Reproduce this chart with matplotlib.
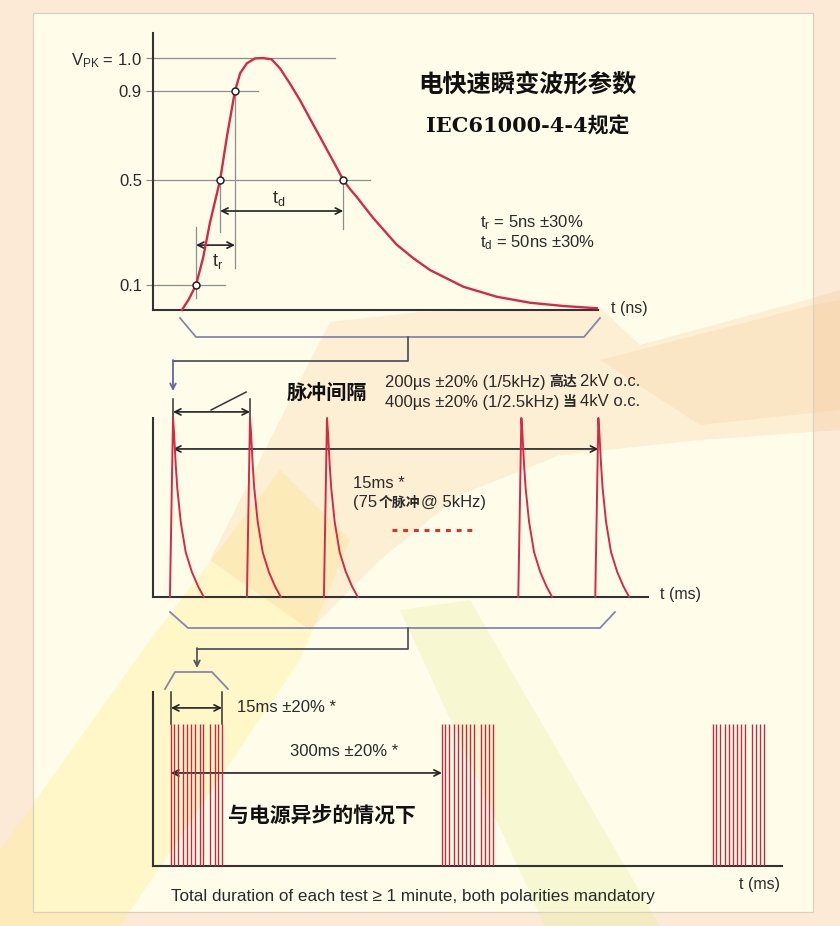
import numpy as np
import matplotlib
matplotlib.use("Agg")
import matplotlib.pyplot as plt
from matplotlib.patches import Polygon, Rectangle

plt.rcParams['font.family'] = ['Liberation Sans', 'Noto Sans CJK SC', 'DejaVu Sans']
CJK = ['Noto Sans CJK SC', 'DejaVu Sans']

# ---------------- data ----------------
# single EFT pulse (normalised voltage vs time in ns)
pulse_t_ns = [7.8, 9.7, 11.6, 13.5, 15.4, 18.1, 20.0, 22.1,
              23.5, 25.3, 27.5, 29.7, 32.0, 34.3, 36.9, 39.6, 42.3, 45.0, 47.7, 49.6,
              51.3, 53.1, 54.9, 59.4, 65.7, 70.2, 74.7, 83.7, 92.7, 101.7, 110.7, 119.7]
pulse_v = [0.0, 0.044, 0.10, 0.203, 0.34, 0.50, 0.702, 0.90,
           0.954, 0.984, 0.999, 1.0, 0.996, 0.968, 0.923, 0.860, 0.777, 0.695, 0.612, 0.554,
           0.50, 0.466, 0.436, 0.355, 0.254, 0.202, 0.157, 0.093, 0.053, 0.029, 0.016, 0.007]
levels = [0.1, 0.5, 0.9, 1.0]
level_labels = ['0.1', '0.5', '0.9', r'$\mathregular{V_{PK}}$ = 1.0']
cross_t = [11.6, 18.1, 22.1, 51.3]   # 10%, 50%, 90% rise, 50% fall
cross_v = [0.1, 0.5, 0.9, 0.5]

# burst of pulses (time in us)
burst_pulse_us = [0, 200, 400, 905, 1105]
shape_dt_us = [-8, 0, 2.6, 7, 11, 20, 33, 49, 65, 80]
shape_v = [0.0, 1.0, 0.92, 0.74, 0.61, 0.42, 0.25, 0.14, 0.06, 0.0]

# repeated bursts (time in ms)
burst_start_ms = [0, 300, 600]
burst_line_ms = [0, 3.9, 8.3, 13.3, 17.7, 22.1, 27.1, 31.6, 36.0, 43.2, 48.2, 52.6, 56.5]

# ---------------- style ----------------
W, H = 840, 926
RED = '#D42A45'
INK = '#2A2A2A'
GRID = '#8E8E8E'
BRK = '#8686AC'
CON = '#55555F'

fig = plt.figure(figsize=(W / 100, H / 100), dpi=100)
fig.patch.set_facecolor('#FCEAD6')


def px_axes(x0, y0, x1, y1):
    ax = fig.add_axes([x0 / W, 1 - y1 / H, (x1 - x0) / W, (y1 - y0) / H])
    ax.patch.set_visible(False)
    return ax


# background / frame in pixel coordinates
bg = fig.add_axes([0, 0, 1, 1])
bg.set_xlim(0, W)
bg.set_ylim(H, 0)
bg.axis('off')
bg.add_patch(Rectangle((0, 0), W, H, color='#FCEAD6', zorder=0))
bg.add_patch(Rectangle((33, 13), 780, 899, facecolor='#FFFDEA', edgecolor='none', zorder=1))
# faint logo watermark
bg.add_patch(Polygon([(0, 850), (0, 926), (120, 926), (300, 660), (350, 540), (280, 470),
                      (150, 640)], closed=True, color='#FFEE8A', alpha=0.35, lw=0, zorder=2))
bg.add_patch(Polygon([(210, 560), (290, 400), (330, 322), (420, 312), (600, 308), (640, 345),
                      (813, 298), (840, 290), (840, 430), (700, 440), (560, 455), (460, 495),
                      (380, 560), (310, 630)], closed=True, color='#F3B878', alpha=0.2,
                     lw=0, zorder=2))
bg.add_patch(Polygon([(600, 360), (813, 305), (840, 300), (840, 410), (700, 425)],
                     closed=True, color='#F3B878', alpha=0.15, lw=0, zorder=2))
bg.add_patch(Polygon([(400, 610), (470, 600), (660, 926), (545, 926)], closed=True,
                     color='#E6EE9A', alpha=0.3, lw=0, zorder=2))
bg.add_patch(Rectangle((33, 13), 780, 899, facecolor='none', edgecolor='#D8D2C0', lw=0.9,
                       zorder=3))

# brackets and connectors between the three panels
bg.plot([180, 196, 584, 600], [318, 337, 337, 318], color=BRK, lw=1.3, zorder=4)
bg.plot([408, 408, 173], [337, 361, 361], color=CON, lw=1.3, zorder=4)
bg.annotate('', xy=(173, 391), xytext=(173, 360), zorder=4,
            arrowprops=dict(arrowstyle='->', color='#6666A6', lw=1.3, shrinkA=0, shrinkB=0))
bg.plot([170, 188, 600, 615], [612, 628, 628, 612], color=BRK, lw=1.3, zorder=4)
bg.plot([408, 408, 197], [628, 649, 649], color=CON, lw=1.3, zorder=4)
bg.annotate('', xy=(197, 668), xytext=(197, 648), zorder=4,
            arrowprops=dict(arrowstyle='->', color=CON, lw=1.3, shrinkA=0, shrinkB=0))
bg.plot([165, 175, 212, 228], [689, 672, 672, 689], color=BRK, lw=1.3, zorder=4)

# titles and notes
bg.text(527, 85, '电快速瞬变波形参数', family=CJK, weight='bold', fontsize=17.5,
        ha='center', va='center', color='#111111', zorder=5)
bg.text(528, 126, 'IEC61000-4-4规定', family=['DejaVu Serif', 'Noto Sans CJK SC'],
        weight='bold', fontsize=15, ha='center', va='center', color='#111111', zorder=5)
bg.text(480, 223, r'$\mathregular{t_r}$ = 5ns ±30%', fontsize=12, color=INK,
        va='center', zorder=5)
bg.text(480, 243, r'$\mathregular{t_d}$ = 50ns ±30%', fontsize=12, color=INK,
        va='center', zorder=5)
bg.text(611, 309, 't (ns)', fontsize=11.5, color=INK, va='center', zorder=5)


def chain(x, y, parts, size=12, gap=2.5):
    t = None
    for s, bold in parts:
        kw = dict(fontsize=size, color=INK, va='center', ha='left', zorder=5)
        if bold:
            kw.update(family=CJK, weight='bold', fontsize=size - 2)
        if t is None:
            t = bg.text(x, y, s, **kw)
        else:
            t = bg.annotate(s, xy=(1, 0.5), xycoords=t, xytext=(gap, 0),
                            textcoords='offset points', **kw)
    return t


bg.text(287, 392, '脉冲间隔', family=CJK, weight='bold', fontsize=14.5, color='#111111',
        va='center', zorder=5)
chain(385, 382, [('200µs ±20% (1/5kHz)', False), ('高达', True), ('2kV o.c.', False)])
chain(385, 402, [('400µs ±20% (1/2.5kHz)', False), ('当', True), ('4kV o.c.', False)])
bg.text(353, 484, '15ms *', fontsize=12, color=INK, va='center', zorder=5)
chain(353, 503, [('(75', False), ('个脉冲', True), ('@ 5kHz)', False)], gap=0.8)
bg.text(660, 595, 't (ms)', fontsize=11.5, color=INK, va='center', zorder=5)

bg.text(237, 708, '15ms ±20% *', fontsize=12, color=INK, va='center', zorder=5)
bg.text(290, 752, '300ms ±20% *', fontsize=12, color=INK, va='center', zorder=5)
bg.text(228, 815, '与电源异步的情况下', family=CJK, weight='bold', fontsize=15,
        color='#111111', va='center', zorder=5)
bg.text(739, 884, 't (ms)', fontsize=11.5, color=INK, va='center', zorder=5)
bg.text(171, 897, 'Total duration of each test ≥ 1 minute, both polarities mandatory',
        fontsize=12.3, color=INK, va='center', zorder=5)


def axis_lines(ax):
    for side in ('top', 'right'):
        ax.spines[side].set_visible(False)
    for side in ('left', 'bottom'):
        ax.spines[side].set_color('#333333')
        ax.spines[side].set_linewidth(1.5)
    ax.set_xticks([])


def dim_arrow(ax, x0, x1, y):
    ax.annotate('', xy=(x1, y), xytext=(x0, y), annotation_clip=False,
                arrowprops=dict(arrowstyle='<->', color='#222222', lw=1.2,
                                shrinkA=0, shrinkB=0, mutation_scale=11))


# ---------------- top: single pulse ----------------
ax1 = px_axes(153, 33, 598, 310)
knots_v = [-0.2, 0.0, 0.1, 0.5, 0.9, 1.0, 1.2]
knots_h = [-50, 0, 25, 130, 219, 252, 318]
ax1.set_yscale('function', functions=(lambda v: np.interp(v, knots_v, knots_h),
                                      lambda h: np.interp(h, knots_h, knots_v)))
ax1.set_xlim(0, 120)
ax1.set_ylim(0, 1.076)
axis_lines(ax1)
ax1.set_yticks(levels, level_labels)
ax1.tick_params(axis='y', length=5, width=0.9, color=GRID, pad=3, labelsize=12,
                labelcolor=INK)
ax1.tick_params(axis='y', which='minor', length=0)

level_end = [19.4, 58.5, 28.3, 49.1]
for v, xe in zip(levels, level_end):
    ax1.plot([0, xe], [v, v], color=GRID, lw=0.9, zorder=2)
guides = [(11.6, 0.05, 0.32), (22.1, 0.165, 0.9), (18.1, 0.302, 0.5), (51.3, 0.312, 0.5)]
for x, y0, y1 in guides:
    ax1.plot([x, x], [y0, y1], color=GRID, lw=0.9, zorder=2)
ax1.plot(pulse_t_ns, pulse_v, color=RED, lw=1.7, clip_on=False, zorder=4)
ax1.plot(cross_t, cross_v, 'o', ms=5, mfc='white', mec='#222222', mew=1.1, zorder=5)
dim_arrow(ax1, cross_t[0], cross_t[2], 0.252)
dim_arrow(ax1, cross_t[1], cross_t[3], 0.382)
ax1.text(17.5, 0.19, r'$\mathregular{t_r}$', fontsize=13, color=INK, ha='center', va='center')
ax1.text(33.8, 0.43, r'$\mathregular{t_d}$', fontsize=13, color=INK, ha='center', va='center')

# ---------------- middle: pulses inside a burst ----------------
ax2 = px_axes(153, 418, 648, 597)
ax2.set_xlim(-52, 1234)
ax2.set_ylim(0, 1)
axis_lines(ax2)
ax2.set_yticks([])
for t0 in burst_pulse_us:
    ax2.plot(t0 + np.array(shape_dt_us), shape_v, color=RED, lw=1.4, clip_on=False, zorder=4)
for t0 in burst_pulse_us[:2]:
    ax2.plot([t0, t0], [1.0, 1.105], color='#333333', lw=1.1, clip_on=False)
dim_arrow(ax2, burst_pulse_us[0], burst_pulse_us[1], 1.034)
ax2.plot([99, 190], [1.045, 1.145], color='#333333', lw=1.1, clip_on=False)
dim_arrow(ax2, burst_pulse_us[0], burst_pulse_us[-1], 0.827)
ax2.plot([569, 777], [0.374, 0.374], color='#D8342C', lw=2.2, ls=(0, (1.6, 1.9)))

# ---------------- bottom: repeated bursts ----------------
ax3 = px_axes(153, 692, 782, 866)
ax3.set_xlim(-19.9, 676.6)
ax3.set_ylim(0, 1.225)
axis_lines(ax3)
ax3.set_yticks([])
for s in burst_start_ms:
    ax3.vlines(s + np.array(burst_line_ms), 0, 1, color='#C8283F', lw=1.0, zorder=4)
first, last = burst_line_ms[0], burst_line_ms[-1]
for x in (first, last):
    ax3.plot([x, x], [1.0, 1.225], color='#333333', lw=1.1, clip_on=False)
dim_arrow(ax3, first, last, 1.113)
dim_arrow(ax3, burst_start_ms[0], burst_start_ms[1], 0.655)

fig.savefig('out.png', dpi=100, facecolor=fig.get_facecolor())
